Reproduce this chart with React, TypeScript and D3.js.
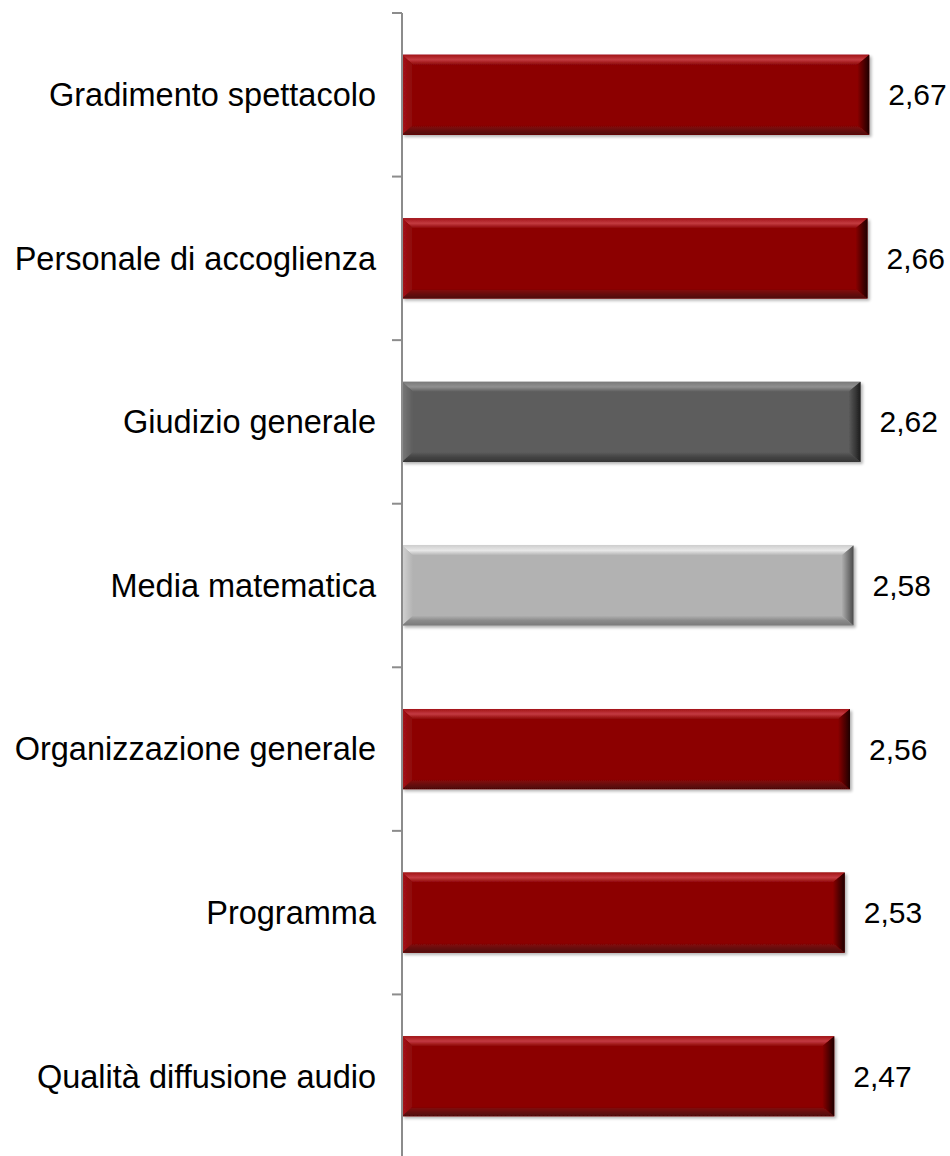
import React from "react";
import * as d3 from "d3";

const categories = [
  "Gradimento spettacolo",
  "Personale di accoglienza",
  "Giudizio generale",
  "Media matematica",
  "Organizzazione generale",
  "Programma",
  "Qualità diffusione audio",
];
const values = [2.67, 2.66, 2.62, 2.58, 2.56, 2.53, 2.47];
const kinds = ["red", "red", "dark", "light", "red", "red", "red"];

type Pal = { main: string; topA: string; topB: string; leftA: string; botA: string; botB: string; rightA: string };
const palette: Record<string, Pal> = {
  red: { main: "#8c0505", topA: "#a31418", topB: "#c33a40", leftA: "#a5151a", botA: "#6a0a0a", botB: "#4e0606", rightA: "#1e0000" },
  dark: { main: "#5d5d5d", topA: "#7a7a7a", topB: "#909090", leftA: "#787878", botA: "#444444", botB: "#353535", rightA: "#1c1c1c" },
  light: { main: "#b2b2b2", topA: "#cfcfcf", topB: "#e8e8e8", leftA: "#d2d2d2", botA: "#8a8a8a", botB: "#7a7a7a", rightA: "#4a4a4a" },
};

const W = 950;
const H = 1156;
const axisX = 402;
const top = 13;

export default function App() {
  const x = d3.scaleLinear().domain([0, 3]).range([axisX, axisX + 525]);
  const y = d3
    .scaleBand<string>()
    .domain(categories)
    .range([top, top + 1145])
    .paddingInner(0.51)
    .paddingOuter(0.255);
  const step = y.step();
  const bwT = 10;
  const bwL = 11;
  const bwR = 12;
  const fmt = (v: number) => v.toFixed(2).replace(".", ",");

  return (
    <svg width={W} height={H} style={{ position: "absolute", left: 0, top: 0 }} fontFamily="'Liberation Sans', Arial, sans-serif">
      <defs>
        <filter id="sh" x="-5%" y="-20%" width="110%" height="140%">
          <feGaussianBlur in="SourceAlpha" stdDeviation="1.5" />
          <feOffset dx="2" dy="2" result="b" />
          <feComponentTransfer>
            <feFuncA type="linear" slope="0.3" />
          </feComponentTransfer>
          <feMerge>
            <feMergeNode />
            <feMergeNode in="SourceGraphic" />
          </feMerge>
        </filter>
        {Object.entries(palette).map(([k, p]) => (
          <React.Fragment key={k}>
            <linearGradient id={`top-${k}`} x1="0" y1="0" x2="0" y2="1">
              <stop offset="0" stopColor={p.topA} />
              <stop offset="0.5" stopColor={p.topB} />
              <stop offset="1" stopColor={p.main} />
            </linearGradient>
            <linearGradient id={`left-${k}`} x1="0" y1="0" x2="1" y2="0">
              <stop offset="0" stopColor={p.leftA} />
              <stop offset="1" stopColor={p.main} />
            </linearGradient>
            <linearGradient id={`bot-${k}`} x1="0" y1="0" x2="0" y2="1">
              <stop offset="0" stopColor={p.main} />
              <stop offset="0.5" stopColor={p.botA} />
              <stop offset="1" stopColor={p.botB} />
            </linearGradient>
            <linearGradient id={`right-${k}`} x1="0" y1="0" x2="1" y2="0">
              <stop offset="0" stopColor={p.main} />
              <stop offset="1" stopColor={p.rightA} />
            </linearGradient>
          </React.Fragment>
        ))}
      </defs>
      <rect width={W} height={H} fill="#fff" />
      {categories.map((c, i) => {
        const y0 = y(c)!;
        const h = y.bandwidth();
        const x0 = x(0);
        const x1 = x(values[i]);
        const k = kinds[i];
        const p = palette[k];
        return (
          <g key={c}>
            <g filter="url(#sh)">
              <rect x={x0} y={y0} width={x1 - x0} height={h} fill={p.main} />
              <polygon points={`${x0},${y0} ${x1},${y0} ${x1 - bwR},${y0 + bwT} ${x0 + bwL},${y0 + bwT}`} fill={`url(#top-${k})`} />
              <polygon points={`${x0},${y0} ${x0 + bwL},${y0 + bwT} ${x0 + bwL},${y0 + h - bwT} ${x0},${y0 + h}`} fill={`url(#left-${k})`} />
              <polygon points={`${x0},${y0 + h} ${x0 + bwL},${y0 + h - bwT} ${x1 - bwR},${y0 + h - bwT} ${x1},${y0 + h}`} fill={`url(#bot-${k})`} />
              <polygon points={`${x1},${y0} ${x1},${y0 + h} ${x1 - bwR},${y0 + h - bwT} ${x1 - bwR},${y0 + bwT}`} fill={`url(#right-${k})`} />
            </g>
            <text x={376} y={y0 + h / 2} dy="0.35em" textAnchor="end" fontSize={32.5} fill="#000">
              {c}
            </text>
            <text x={x1 + 19} y={y0 + h / 2} dy="0.35em" textAnchor="start" fontSize={30} fill="#000">
              {fmt(values[i])}
            </text>
          </g>
        );
      })}
      <line x1={axisX} x2={axisX} y1={top} y2={H} stroke="#8c8c8c" strokeWidth={2} />
      {d3.range(categories.length + 1).map((i) => (
        <line key={i} x1={axisX - 10} x2={axisX} y1={top + i * step} y2={top + i * step} stroke="#8c8c8c" strokeWidth={2} />
      ))}
    </svg>
  );
}
